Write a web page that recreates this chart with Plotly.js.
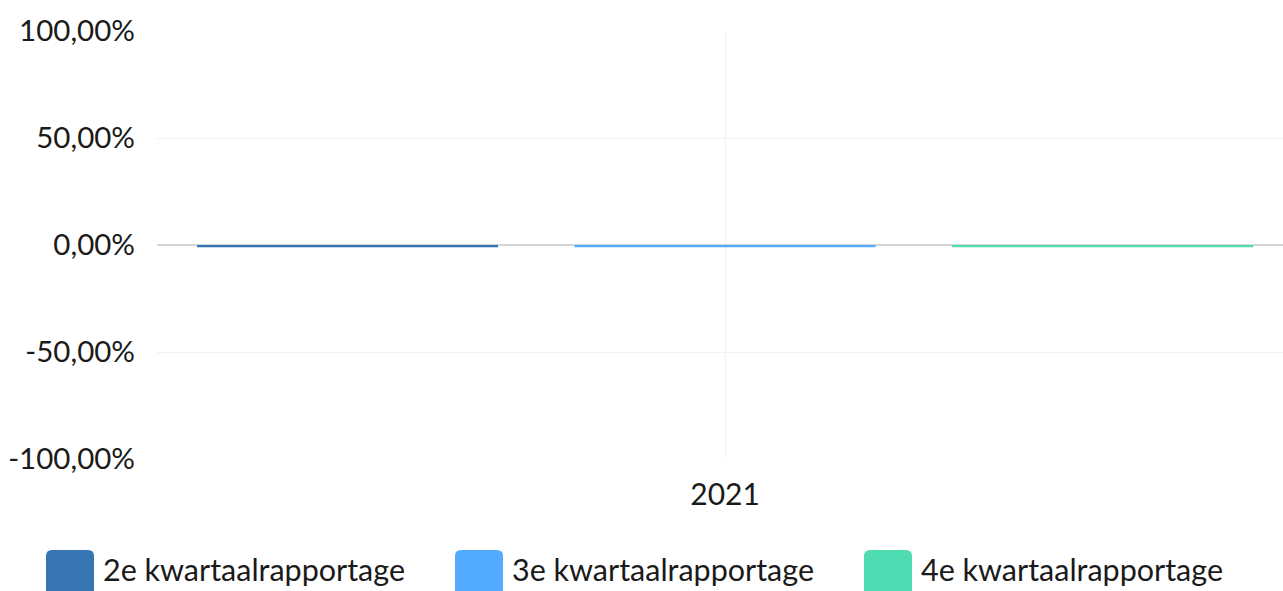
<!DOCTYPE html>
<html>
<head>
<meta charset="utf-8">
<script src="https://cdn.plot.ly/plotly-3.0.1.min.js"></script>
<style>html,body{margin:0;padding:0;background:#fff;}#chart{width:1283px;height:591px;}</style>
</head>
<body>
<div id="chart"></div>
<script>
var categories = ["2021"];
var seriesNames = ["2e kwartaalrapportage", "3e kwartaalrapportage", "4e kwartaalrapportage"];
var seriesValues = [[-1], [-1], [-1]];
var seriesColors = ["#3674b4", "#52abff", "#50dcb2"];
var yTickValues = [-100, -50, 0, 50, 100];
var yTickLabels = ["-100,00%", "-50,00%", "0,00%", "50,00%", "100,00%"];

var W = 1283, H = 591;
var mL = 157, mR = 0, mT = 31, mB = 132;
var pw = W - mL - mR, ph = H - mT - mB;
function px2x(p) { return (p - mL) / pw; }
function py2y(p) { return (H - mB - p) / ph; }

var traces = seriesNames.map(function (name, i) {
  return {
    type: "bar",
    name: name,
    x: categories,
    y: seriesValues[i],
    marker: { color: seriesColors[i], line: { width: 0 } },
    showlegend: false,
    hoverinfo: "x+y+name"
  };
});

// custom legend (rounded squares + labels)
var shapes = [], annotations = [];
var legStart = 46, legStep = 409, sq = 48, legTop = 550, r = 6;
seriesNames.forEach(function (name, i) {
  var x0p = legStart + i * legStep, x1p = x0p + sq, y0p = legTop, y1p = legTop + sq;
  var x0 = px2x(x0p), x1 = px2x(x1p), yt = py2y(y0p), yb = py2y(y1p);
  var rx = r / pw, ry = r / ph;
  var path = "M" + (x0 + rx) + "," + yt +
    " L" + (x1 - rx) + "," + yt +
    " Q" + x1 + "," + yt + " " + x1 + "," + (yt - ry) +
    " L" + x1 + "," + (yb + ry) +
    " Q" + x1 + "," + yb + " " + (x1 - rx) + "," + yb +
    " L" + (x0 + rx) + "," + yb +
    " Q" + x0 + "," + yb + " " + x0 + "," + (yb + ry) +
    " L" + x0 + "," + (yt - ry) +
    " Q" + x0 + "," + yt + " " + (x0 + rx) + "," + yt + " Z";
  shapes.push({ type: "path", xref: "paper", yref: "paper", path: path,
    fillcolor: seriesColors[i], line: { width: 0 }, layer: "above" });
  annotations.push({ xref: "paper", yref: "paper", x: px2x(x1p + 7), y: py2y(569),
    xanchor: "left", yanchor: "middle", text: name, showarrow: false,
    font: { family: "Lato, sans-serif", size: 30.5, color: "#1a1a1a" } });
});

var layout = {
  width: W, height: H,
  margin: { l: mL, r: mR, t: mT, b: mB, pad: 0 },
  paper_bgcolor: "#ffffff", plot_bgcolor: "#ffffff",
  font: { family: "Lato, sans-serif", color: "#1a1a1a" },
  barmode: "group",
  bargap: 0.003,
  bargroupgap: 0.2026,
  showlegend: false,
  xaxis: {
    type: "category",
    range: [-0.5, 0.491],
    showgrid: true, gridcolor: "#f2f2f2", gridwidth: 1,
    zeroline: false, showline: false, ticks: "",
    tickfont: { family: "Lato, sans-serif", size: 30, color: "#1a1a1a" },
    ticklabelstandoff: 15,
    fixedrange: true
  },
  yaxis: {
    range: [-100, 100],
    tickvals: yTickValues, ticktext: yTickLabels,
    showgrid: true, gridcolor: "#f2f2f2", gridwidth: 1,
    zeroline: true, zerolinecolor: "#d6d6d6", zerolinewidth: 2,
    showline: false, ticks: "",
    tickfont: { family: "Lato, sans-serif", size: 29.5, color: "#1a1a1a" },
    ticklabelstandoff: 21,
    fixedrange: true
  },
  shapes: shapes,
  annotations: annotations
};

Plotly.newPlot("chart", traces, layout, { displayModeBar: false, staticPlot: true });
</script>
</body>
</html>
